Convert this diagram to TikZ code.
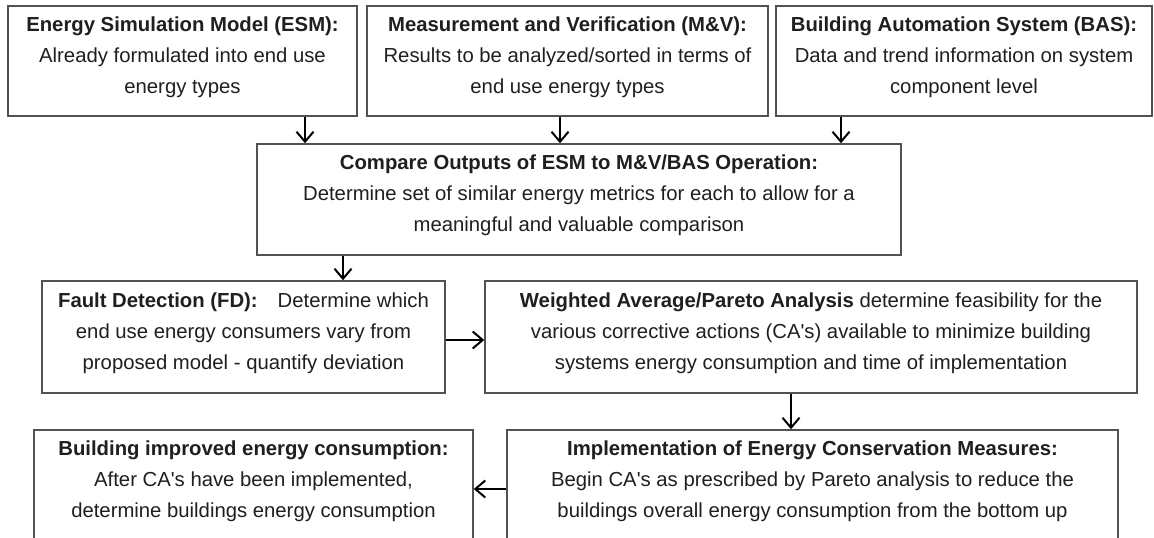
\documentclass[tikz,border=0pt]{standalone}
\usepackage{fontspec}
\newfontfamily\arialfam{Liberation Sans}
\usetikzlibrary{arrows.meta,calc}
\tikzset{
  box/.style={draw=black!68, line width=1.5pt, rectangle, inner sep=0pt, fill=none},
  txt/.style={inner sep=0pt, align=center, text=black!88, font=\arialfam\fontsize{20.3}{31}\selectfont},
  arr/.style={draw=black, line width=2pt, -{Straight Barb[length=10pt,width=17pt,line width=2pt]}}
}
\begin{document}
\begin{tikzpicture}[x=1pt,y=-1pt]
\useasboundingbox[fill=white] (0,0) rectangle (1154,538);
% boxes
\node[box, minimum width=349pt, minimum height=110pt] (esm) at (182.5,61) {};
\node[box, minimum width=401pt, minimum height=110pt] (mv)  at (567.5,61) {};
\node[box, minimum width=376pt, minimum height=110pt] (bas) at (964,61) {};
\node[box, minimum width=644pt, minimum height=111pt] (cmp) at (579,199.5) {};
\node[box, minimum width=403pt, minimum height=112pt] (fd)  at (243.5,337) {};
\node[box, minimum width=652pt, minimum height=112pt] (wa)  at (811,337) {};
\node[box, minimum width=439pt, minimum height=111pt] (bi)  at (253.5,485.5) {};
\node[box, minimum width=611pt, minimum height=111pt] (im)  at (812.5,485.5) {};
% texts
\node[txt] (esmT) at ([yshift=4pt]esm.center) {\textbf{Energy Simulation Model (ESM):}\\Already formulated into end use\\energy types};
\node[txt] (mvT) at ([yshift=4pt]mv.center) {\textbf{Measurement and Verification (M\&V):}\\Results to be analyzed/sorted in terms of\\end use energy types};
\node[txt] (basT) at ([yshift=4pt]bas.center) {\textbf{Building Automation System (BAS):}\\Data and trend information on system\\component level};
\node[txt] (cmpT) at ([yshift=4pt]cmp.center) {\textbf{Compare Outputs of ESM to M\&V/BAS Operation:}\\Determine set of similar energy metrics for each to allow for a\\meaningful and valuable comparison};
\node[txt] (fdT) at ([yshift=4pt]fd.center) {\textbf{Fault Detection (FD):}\hspace{20pt}Determine which\\end use energy consumers vary from\\proposed model - quantify deviation};
\node[txt] (waT) at ([yshift=4pt]wa.center) {\textbf{Weighted Average/Pareto Analysis} determine feasibility for the\\various corrective actions (CA's) available to minimize building\\systems energy consumption and time of implementation};
\node[txt] (biT) at ([yshift=4pt]bi.center) {\textbf{Building improved energy consumption:}\\After CA's have been implemented,\\determine buildings energy consumption};
\node[txt] (imT) at ([yshift=4pt]im.center) {\textbf{Implementation of Energy Conservation Measures:}\\Begin CA's as prescribed by Pareto analysis to reduce the\\buildings overall energy consumption from the bottom up};
% arrow guide coordinates
\coordinate (xa) at (305,0);
\coordinate (xb) at (560,0);
\coordinate (xc) at (841,0);
\coordinate (xd) at (343,0);
\coordinate (xe) at (791,0);
\coordinate (ya) at (0,340);
\coordinate (yb) at (0,489);
% connectors
\draw[arr] (esm.south -| xa) -- (cmp.north -| xa);
\draw[arr] (mv.south -| xb) -- (cmp.north -| xb);
\draw[arr] (bas.south -| xc) -- (cmp.north -| xc);
\draw[arr] (cmp.south -| xd) -- (fd.north -| xd);
\draw[arr] (fd.east |- ya) -- (wa.west |- ya);
\draw[arr] (wa.south -| xe) -- (im.north -| xe);
\draw[arr] (im.west |- yb) -- (bi.east |- yb);
\end{tikzpicture}
\end{document}
